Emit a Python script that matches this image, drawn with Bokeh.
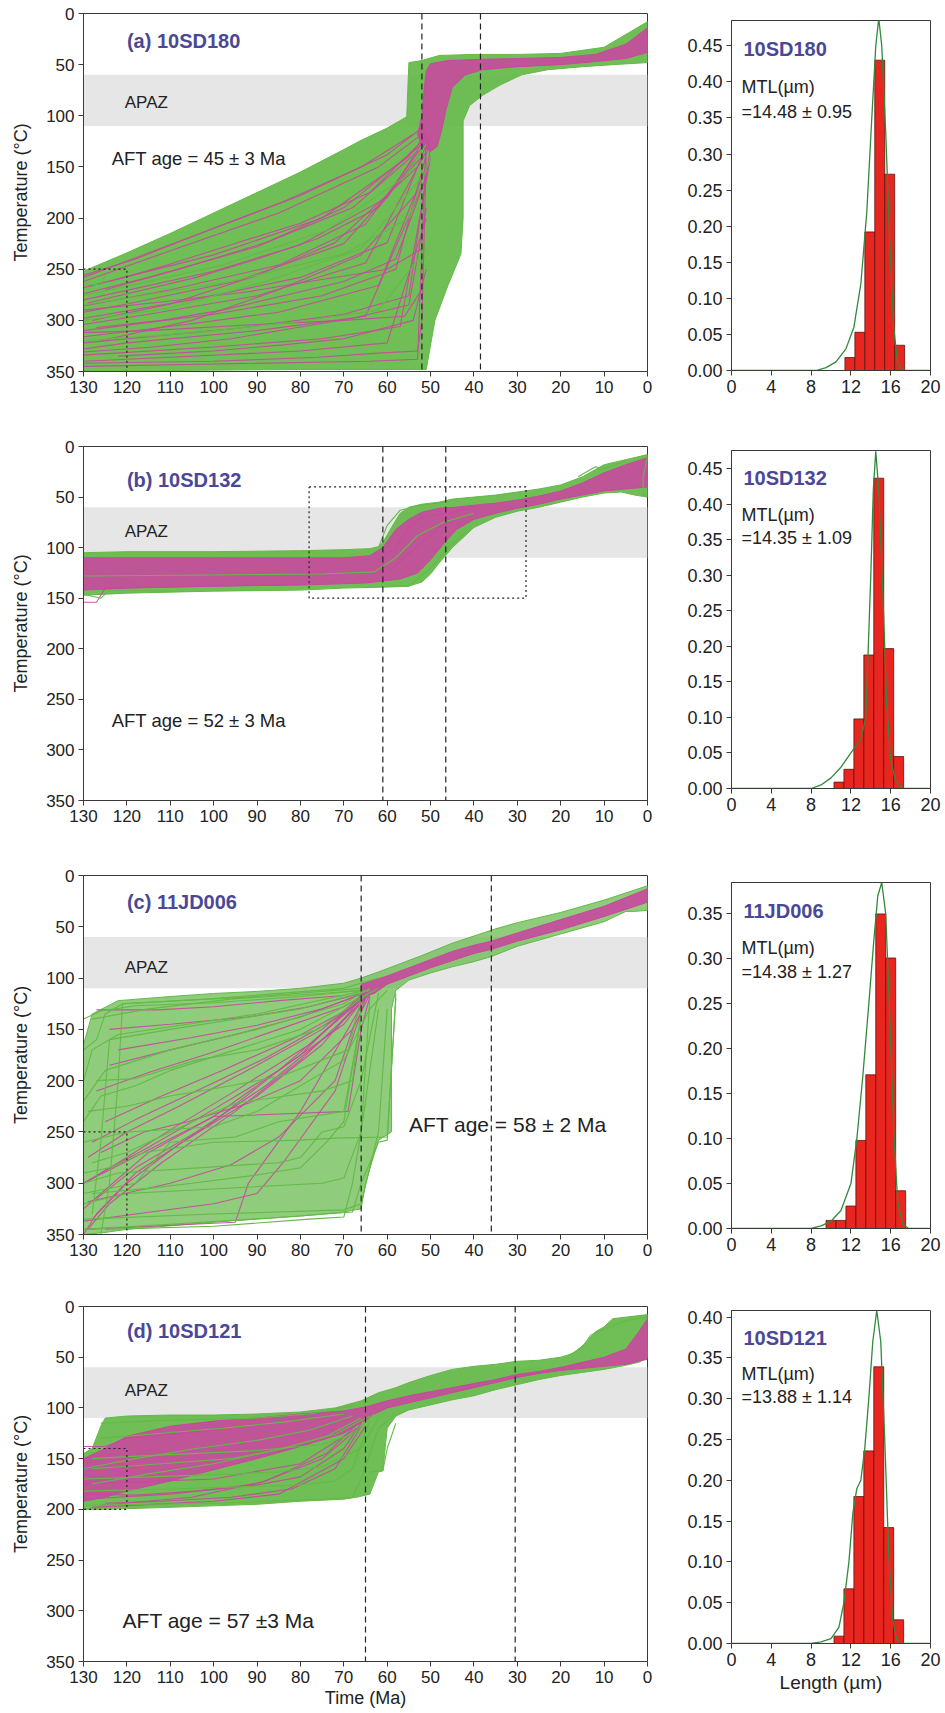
from bokeh.plotting import figure
from bokeh.layouts import column, row
from bokeh.models import Range1d, FixedTicker, NumeralTickFormatter, Span
from bokeh.core.properties import value
from bokeh.embed import file_html
from bokeh.resources import INLINE

FONT = "Liberation Sans"
GREEN = "#64b948"
MAGENTA = "#c8489e"
TITLE_C = "#4a4896"
TXT = "#222222"
AX = "#3a3a3a"
CURVE = "#2f8a3c"
BAR = "#e8261f"

TIME_TICKS = [130, 120, 110, 100, 90, 80, 70, 60, 50, 40, 30, 20, 10, 0]
TEMP_TICKS = [0, 50, 100, 150, 200, 250, 300, 350]
LEN_TICKS = [0, 4, 8, 12, 16, 20]
APAZ = [60, 110]

# ---------------- panel (a) 10SD180 ----------------
A_LABEL = "(a) 10SD180"
A_AGE = "AFT age = 45 \u00b1 3 Ma"
A_DASH = [52, 38.5]
A_GREEN_ENV = [(130, 252), (120, 234), (110, 215), (100, 195), (89, 173), (80, 155), (70, 133), (66, 124),
               (60, 112), (55.5, 101), (55, 48), (52, 46), (48, 41), (40, 40), (30, 40), (20, 39),
               (10, 33), (4, 18), (0, 8),
               (0, 48), (8, 50), (15, 52), (23, 55), (29, 60), (34, 70), (38, 80), (41, 90), (42.5, 105),
               (42.5, 200), (43, 235), (46, 266), (49, 300), (51, 348), (80, 348), (110, 349), (130, 350)]
A_MAG_ENV = [(53, 118), (52, 100), (51.5, 75), (51, 56), (50, 49), (46, 46), (40, 45), (30, 44), (20, 43),
             (12, 40), (5, 30), (0, 14),
             (0, 38), (5, 44), (12, 47), (20, 50), (30, 52), (38, 55), (42, 60), (45, 72), (46.5, 95),
             (47.5, 115), (48.5, 130), (50, 135), (52, 130)]
A_MAG_PATHS = [
    [(130, 258), (105, 218), (80, 178), (60, 138), (52, 112)],
    [(130, 262), (110, 232), (85, 195), (62, 150), (51, 115)],
    [(130, 268), (100, 236), (75, 200), (55, 140), (51, 118)],
    [(130, 274), (115, 258), (90, 228), (70, 190), (52, 128)],
    [(130, 280), (100, 252), (80, 226), (60, 180), (51, 120)],
    [(130, 286), (110, 270), (85, 246), (65, 206), (51, 125)],
    [(130, 292), (120, 284), (95, 262), (70, 225), (52, 140)],
    [(130, 298), (105, 280), (80, 258), (60, 224), (50, 118)],
    [(130, 304), (115, 294), (90, 276), (65, 244), (51, 135)],
    [(130, 310), (100, 294), (75, 276), (58, 250), (50, 122)],
    [(130, 316), (110, 306), (85, 292), (62, 266), (51, 150)],
    [(130, 322), (95, 308), (70, 294), (55, 276), (50, 130)],
    [(130, 328), (120, 322), (90, 310), (65, 296), (51, 160)],
    [(130, 334), (100, 326), (75, 318), (57, 306), (50, 140)],
    [(130, 340), (110, 336), (80, 330), (60, 322), (51, 200)],
    [(130, 345), (64, 340), (53, 338), (51, 118)],
    [(128, 300), (110, 284), (90, 256), (72, 224), (53, 150)],
    [(126, 320), (105, 300), (85, 270), (66, 236), (52, 170)],
    [(125, 270), (108, 250), (88, 224), (68, 190), (53, 135)],
    [(130, 290), (112, 282), (92, 272), (78, 262), (60, 250), (52, 230)],
    [(130, 312), (115, 310), (90, 304), (70, 300), (56, 296), (52, 270)],
    [(122, 335), (100, 330), (84, 324), (70, 318), (54, 300), (51, 250)],
    [(130, 256), (118, 240), (100, 210), (84, 184), (66, 150), (54, 118)],
    [(129, 283), (118, 272), (104, 258), (90, 240), (76, 220), (62, 190), (52, 135)],
    [(127, 307), (112, 300), (98, 290), (84, 276), (70, 262), (58, 240), (51, 160)],
    [(130, 331), (114, 326), (96, 318), (82, 308), (68, 298), (55, 285), (51, 190)],
    [(124, 262), (110, 245), (96, 226), (80, 205), (64, 175), (52, 125)],
    [(130, 342), (100, 340), (76, 336), (62, 332), (53, 330), (52, 300), (51, 140)],
]
A_GREEN_PATHS = [
    [(130, 265), (126, 265), (125, 256)],
    [(130, 300), (110, 288), (88, 262), (66, 230), (52, 160)],
    [(130, 276), (98, 246), (74, 212), (56, 160), (51, 128)],
    [(130, 320), (104, 312), (78, 300), (62, 290), (51, 230)],
    [(130, 285), (96, 262), (70, 235), (55, 200), (50, 140)],
]
A_DOTTED = [[(130, 250), (120, 250), (120, 350)]]
A_BOX = []

A_HIST_EDGES = [11.4, 12.4, 13.4, 14.4, 15.4, 16.4, 17.4]
A_HIST = [0.018, 0.053, 0.192, 0.430, 0.272, 0.035]
A_CURVE_X = [0, 8.5, 9.5, 10.5, 11.5, 12.3, 13.0, 13.6, 14.1, 14.5, 14.8, 15.1, 15.5, 15.9, 16.3, 16.7, 17.2, 20]
A_CURVE_Y = [0, 0, 0.004, 0.012, 0.03, 0.06, 0.12, 0.22, 0.35, 0.45, 0.488, 0.45, 0.33, 0.18, 0.06, 0.01, 0, 0]
A_SAMPLE = "10SD180"
A_MTL = "=14.48 \u00b1 0.95"
A_YMAX = 0.485
A_YTICKS = [0.0, 0.05, 0.10, 0.15, 0.20, 0.25, 0.30, 0.35, 0.40, 0.45]

# ---------------- panel (b) 10SD132 ----------------
B_LABEL = "(b) 10SD132"
B_AGE = "AFT age = 52 \u00b1 3 Ma"
B_DASH = [61, 46.5]
B_GREEN_ENV = [(130, 105), (120, 104), (100, 104), (80, 103), (70, 102), (64, 101), (62, 99), (61, 95), (59, 80),
               (57, 66), (55, 60), (52, 57), (48, 55), (45, 52), (40, 50), (35, 48), (30, 45), (25, 42), (20, 38),
               (15, 30), (10, 18), (5, 13), (0, 8),
               (0, 50), (3, 48), (6, 45), (10, 46), (15, 50), (20, 55), (25, 60), (30, 64), (35, 70), (40, 80),
               (45, 100), (48, 115), (50, 126), (52, 134), (55, 138), (60, 139), (70, 140), (80, 142), (100, 143),
               (120, 145), (130, 147)]
B_MAG_ENV = [(130, 110), (100, 110), (80, 110), (70, 110), (64, 108), (61, 100), (58, 82), (55, 72), (52, 65),
             (48, 61), (44, 60), (40, 58), (35, 56), (30, 53), (25, 49), (20, 44), (15, 36), (10, 26), (5, 18),
             (0, 11),
             (0, 40), (5, 42), (10, 44), (15, 48), (20, 52), (25, 57), (30, 61), (35, 66), (40, 72), (44, 82),
             (47, 96), (50, 112), (53, 125), (57, 131), (65, 135), (80, 137), (100, 138), (120, 140), (130, 142)]
B_MAG_PATHS = [
    [(130, 154), (127, 154), (125, 140), (100, 138), (80, 136)],
    [(62, 112), (58, 100), (55, 80), (52, 70), (46, 66), (40, 60)],
    [(60, 125), (56, 110), (52, 95), (48, 80), (44, 72)],
]
B_GREEN_PATHS = [
    [(60, 138), (55, 138), (53, 131), (50, 120), (46, 100), (42, 85)],
    [(62, 100), (60, 78), (57, 63), (52, 58), (47, 55)],
    [(0, 10), (1, 30), (1, 48), (0, 50)],
    [(130, 146), (126, 150), (124, 142), (110, 143)],
    [(16, 30), (12, 20), (10, 22), (5, 14)],
    [(130, 128), (100, 127), (75, 126), (63, 124), (58, 110), (53, 88), (47, 75), (40, 66)],
]
B_DOTTED = []
B_BOX = [(78, 40), (28, 40), (28, 150), (78, 150), (78, 40)]

B_HIST_EDGES = [10.3, 11.3, 12.3, 13.3, 14.3, 15.3, 16.3, 17.3]
B_HIST = [0.009, 0.027, 0.098, 0.188, 0.437, 0.197, 0.045]
B_CURVE_X = [0, 8.0, 9, 10, 11, 12, 12.5, 13, 13.5, 14, 14.25, 14.5, 14.8, 15.2, 15.6, 16, 16.5, 17.2, 20]
B_CURVE_Y = [0, 0, 0.005, 0.015, 0.03, 0.05, 0.06, 0.07, 0.10, 0.30, 0.42, 0.475, 0.42, 0.28, 0.12, 0.04, 0.01, 0, 0]
B_SAMPLE = "10SD132"
B_MTL = "=14.35 \u00b1 1.09"
B_YMAX = 0.476
B_YTICKS = [0.0, 0.05, 0.10, 0.15, 0.20, 0.25, 0.30, 0.35, 0.40, 0.45]

# ---------------- panel (c) 11JD006 ----------------
C_LABEL = "(c) 11JD006"
C_AGE = "AFT age = 58 \u00b1 2 Ma"
C_DASH = [66, 36]
C_GREEN_ENV = [(130, 165), (128, 135), (122, 122), (110, 118), (100, 115), (90, 113), (80, 110), (70, 105),
               (66, 100), (62, 94), (57, 86), (52, 78), (45, 66), (40, 59), (35, 52), (30, 46), (20, 36), (10, 24),
               (5, 17), (0, 10),
               (0, 34), (3, 35), (5, 35), (10, 45), (20, 57), (30, 69), (36, 79), (40, 84), (45, 89), (50, 95),
               (55, 102), (58, 112), (59, 130), (59, 250), (62, 258), (65, 300), (66, 325), (70, 328), (80, 332),
               (100, 338), (120, 345), (125, 348), (130, 350)]
C_MAG_ENV = [(66, 106), (60, 98), (55, 90), (50, 82), (45, 74), (40, 68), (36, 64), (30, 56), (20, 43),
             (10, 30), (0, 13),
             (0, 26), (10, 40), (20, 53), (30, 64), (36, 72), (40, 76), (45, 83), (50, 90), (55, 98), (60, 106),
             (63, 115), (66, 118)]
C_MAG_PATHS = [
    [(130, 350), (127, 330), (118, 290), (100, 240), (85, 190), (65, 118)],
    [(129, 345), (124, 320), (112, 280), (95, 230), (80, 180), (64, 116)],
    [(128, 335), (120, 300), (108, 262), (90, 215), (75, 165), (65, 115)],
    [(130, 325), (126, 310), (115, 270), (100, 235), (80, 175), (66, 117)],
    [(127, 315), (118, 285), (104, 250), (88, 205), (72, 150), (64, 114)],
    [(130, 300), (122, 280), (110, 248), (95, 210), (78, 165), (65, 116)],
    [(126, 290), (115, 265), (100, 228), (85, 190), (70, 145), (64, 113)],
    [(129, 275), (120, 250), (108, 225), (90, 185), (75, 150), (65, 114)],
    [(128, 260), (118, 238), (104, 210), (88, 178), (72, 140), (64, 112)],
    [(125, 240), (112, 215), (98, 190), (82, 160), (68, 128), (64, 113)],
    [(127, 210), (115, 192), (100, 172), (85, 150), (70, 128), (64, 113)],
    [(124, 185), (110, 170), (95, 155), (80, 138), (66, 116)],
    [(122, 170), (105, 158), (90, 146), (75, 130), (65, 114)],
    [(127, 131), (113, 131), (100, 128), (85, 122), (70, 117)],
    [(130, 300), (100, 235), (69, 230), (66, 150), (64, 118)],
    [(130, 345), (95, 338), (92, 300), (80, 230), (65, 120)],
    [(129, 318), (110, 300), (96, 282), (85, 255), (72, 200), (66, 125)],
    [(126, 270), (122, 262), (116, 250), (106, 240), (92, 222), (80, 200), (68, 150), (64, 116)],
    [(124, 150), (110, 145), (92, 138), (78, 128), (66, 115)],
    [(130, 337), (118, 330), (100, 320), (90, 310), (84, 280), (72, 210), (65, 120)],
]
C_GREEN_PATHS = [
    [(130, 170), (127, 160), (125, 135), (121, 125), (100, 120), (70, 110), (62, 100)],
    [(130, 200), (128, 170), (122, 155), (90, 135), (65, 112)],
    [(130, 240), (126, 215), (118, 205), (110, 190), (80, 150), (62, 110)],
    [(130, 260), (120, 250), (100, 245), (90, 230), (70, 180), (64, 130), (60, 112)],
    [(130, 300), (122, 290), (85, 280), (80, 275), (75, 250), (70, 245), (66, 200), (62, 115)],
    [(130, 320), (120, 310), (75, 300), (70, 295), (66, 250), (62, 130)],
    [(130, 335), (100, 330), (70, 326), (66, 320), (62, 250), (60, 130)],
    [(130, 345), (110, 340), (80, 332), (68, 328), (66, 300), (62, 260), (60, 258), (58, 115)],
    [(128, 140), (115, 130), (95, 120), (75, 115), (66, 112)],
    [(130, 220), (125, 190), (110, 170), (90, 150), (70, 125), (64, 110)],
    [(128, 280), (120, 270), (105, 240), (95, 222), (75, 210), (68, 200), (66, 130)],
    [(130, 310), (118, 300), (110, 260), (95, 255), (85, 240), (70, 230), (66, 140)],
    [(126, 350), (124, 300), (122, 200), (121, 125), (90, 118), (66, 110)],
    [(128, 330), (126, 260), (124, 160), (110, 150), (80, 130), (64, 112)],
    [(125, 345), (100, 342), (78, 335), (70, 333), (68, 300), (66, 250), (64, 120)],
    [(130, 290), (124, 285), (116, 270), (100, 260), (80, 258), (72, 256), (60, 255), (58, 120)],
    [(127, 200), (118, 198), (104, 180), (90, 170), (76, 150), (64, 114)],
    [(130, 140), (126, 132), (118, 127), (100, 124), (80, 118), (66, 112)],
    [(129, 230), (120, 225), (110, 215), (96, 205), (84, 195), (75, 180), (69, 170), (66, 120)],
    [(128, 310), (115, 305), (105, 300), (90, 292), (80, 285), (74, 260), (70, 240), (67, 160)],
]
C_DOTTED = [[(130, 250), (120, 250), (120, 350)]]
C_BOX = []

C_HIST_EDGES = [9.5, 10.5, 11.5, 12.5, 13.5, 14.5, 15.5, 16.5, 17.5]
C_HIST = [0.009, 0.009, 0.025, 0.098, 0.171, 0.350, 0.301, 0.042]
C_CURVE_X = [0, 8, 9, 10, 11, 12, 12.6, 13.2, 13.8, 14.3, 14.7, 15.1, 15.5, 15.9, 16.3, 16.7, 17.2, 17.8, 20]
C_CURVE_Y = [0, 0, 0.003, 0.008, 0.02, 0.05, 0.10, 0.17, 0.25, 0.32, 0.37, 0.385, 0.35, 0.24, 0.11, 0.03, 0.005, 0, 0]
C_SAMPLE = "11JD006"
C_MTL = "=14.38 \u00b1 1.27"
C_YMAX = 0.385
C_YTICKS = [0.0, 0.05, 0.10, 0.15, 0.20, 0.25, 0.30, 0.35]

# ---------------- panel (d) 10SD121 ----------------
D_LABEL = "(d) 10SD121"
D_AGE = "AFT age = 57 \u00b13 Ma"
D_DASH = [65, 30.5]
D_GREEN_ENV = [(130, 145), (128, 140), (126, 118), (125, 110), (120, 108), (110, 107), (100, 107), (90, 106),
               (80, 104), (72, 100), (66, 93), (62, 85), (58, 80), (55, 75), (50, 68), (45, 62), (40, 59),
               (35, 57), (30, 54), (25, 53), (20, 50), (17, 46), (14, 35), (12, 25), (10, 20), (8, 12), (0, 8),
               (0, 50), (2, 55), (5, 58), (10, 62), (15, 65), (20, 68), (25, 72), (30, 77), (35, 82), (40, 88),
               (45, 92), (50, 97), (55, 102), (58, 108), (60, 120), (61, 162), (62, 163), (64, 185), (67, 188),
               (70, 190), (80, 192), (90, 195), (110, 198), (125, 200), (130, 200)]
D_MAG_ENV = [(130, 150), (125, 140), (120, 128), (110, 118), (100, 113), (90, 110), (80, 106), (70, 103),
             (65, 99), (60, 93), (55, 88), (50, 84), (45, 80), (40, 76), (35, 72), (30, 67), (25, 64), (20, 60),
             (15, 55), (10, 50), (5, 42), (2, 25), (0, 12),
             (0, 52), (5, 57), (10, 59), (15, 61), (20, 63), (25, 66), (30, 70), (35, 75), (40, 80), (45, 85),
             (50, 90), (55, 95), (60, 100), (63, 106), (65, 112), (70, 125), (80, 138), (90, 150), (100, 161),
             (110, 172), (120, 182), (125, 188), (130, 192)]
D_MAG_PATHS = [
    [(130, 190), (110, 185), (90, 175), (75, 150), (66, 118)],
    [(130, 175), (100, 170), (80, 155), (67, 120)],
    [(128, 198), (100, 192), (85, 185), (70, 150), (65, 118)],
    [(130, 138), (125, 138), (120, 130), (100, 122)],
    [(126, 196), (105, 188), (88, 172), (74, 145), (66, 112)],
    [(130, 185), (118, 186), (104, 182), (90, 176), (80, 168), (70, 140), (66, 115)],
    [(125, 194), (112, 192), (96, 188), (82, 180), (72, 160), (66, 118)],
]
D_GREEN_PATHS = [
    [(130, 196), (100, 194), (75, 190), (68, 188), (66, 170), (62, 120), (58, 106)],
    [(130, 182), (110, 180), (80, 176), (72, 172), (68, 160), (64, 112)],
    [(128, 150), (120, 148), (90, 142), (75, 136), (68, 126), (63, 106)],
    [(126, 115), (110, 112), (90, 110), (78, 106), (68, 98)],
    [(130, 170), (115, 168), (95, 165), (85, 163), (75, 158), (66, 140), (62, 110)],
    [(64, 163), (61, 162), (60, 140), (58, 115)],
    [(18, 48), (15, 40), (13, 28), (10, 22), (5, 14), (0, 10)],
    [(128, 160), (112, 155), (96, 150), (84, 140), (72, 126), (64, 108)],
    [(130, 160), (118, 150), (104, 140), (90, 132), (78, 122), (68, 108)],
    [(128, 175), (115, 165), (100, 155), (86, 142), (74, 128), (66, 110)],
    [(126, 130), (112, 125), (98, 120), (84, 114), (70, 106)],
]
D_DOTTED = [[(130, 140), (120, 140), (120, 200), (130, 200)]]
D_BOX = []

D_HIST_EDGES = [10.3, 11.3, 12.3, 13.3, 14.3, 15.3, 16.3, 17.3]
D_HIST = [0.009, 0.067, 0.180, 0.236, 0.339, 0.142, 0.029]
D_CURVE_X = [0, 8, 9, 10, 10.8, 11.3, 11.8, 12.2, 12.6, 13.0, 13.4, 13.8, 14.2, 14.6, 15.0, 15.4, 15.8, 16.2, 16.6, 17, 20]
D_CURVE_Y = [0, 0, 0.002, 0.006, 0.02, 0.05, 0.10, 0.16, 0.19, 0.20, 0.24, 0.30, 0.37, 0.408, 0.37, 0.25, 0.11, 0.03, 0.005, 0, 0]
D_SAMPLE = "10SD121"
D_MTL = "=13.88 \u00b1 1.14"
D_YMAX = 0.408
D_YTICKS = [0.0, 0.05, 0.10, 0.15, 0.20, 0.25, 0.30, 0.35, 0.40]


def xs_ys(paths):
    return [[t for t, _ in pth] for pth in paths], [[v for _, v in pth] for pth in paths]


def style(p, fs="15px"):
    p.grid.visible = False
    p.outline_line_color = AX
    p.outline_line_width = 1
    p.background_fill_color = "white"
    p.border_fill_color = "white"
    for ax in (p.xaxis[0], p.yaxis[0]):
        ax.major_label_text_font = FONT
        ax.major_label_text_font_size = fs
        ax.major_label_text_color = TXT
        ax.axis_line_color = AX
        ax.major_tick_line_color = AX
        ax.minor_tick_line_color = None
        ax.major_tick_out = 5
        ax.major_tick_in = 0
        ax.major_label_standoff = 4
        ax.axis_label_text_font = FONT
        ax.axis_label_text_font_style = "normal"
        ax.axis_label_text_color = TXT


def tT_panel(label, label_y, age, age_x, age_y, age_fs, apaz_y, green_env, green_alpha, mag_env,
             green_paths, mag_paths, dashes, dotted, box, h, top, bottom, xlabel=None):
    p = figure(width=660, height=h, x_range=Range1d(130, 0), y_range=Range1d(350, 0),
               output_backend="svg", toolbar_location=None,
               min_border_left=83, min_border_right=13, min_border_top=top, min_border_bottom=bottom)
    style(p, fs="17px")
    p.xaxis.ticker = FixedTicker(ticks=TIME_TICKS)
    p.yaxis.ticker = FixedTicker(ticks=TEMP_TICKS)
    p.yaxis.axis_label = "Temperature (\u00b0C)"
    p.yaxis.axis_label_text_font_size = "18px"
    p.yaxis.axis_label_standoff = 12
    if xlabel:
        p.xaxis.axis_label = xlabel
        p.xaxis.axis_label_text_font_size = "18px"
        p.xaxis.axis_label_standoff = 2
    p.quad(left=[TIME_TICKS[0]], right=[TIME_TICKS[-1]], top=[APAZ[0]], bottom=[APAZ[1]],
           fill_color="#e6e6e6", line_color=None)
    p.patch([t for t, _ in green_env], [v for _, v in green_env], fill_color=GREEN,
            fill_alpha=green_alpha, line_color=GREEN, line_width=1)
    gx, gy = xs_ys(green_paths)
    p.patch([t for t, _ in mag_env], [v for _, v in mag_env], fill_color=MAGENTA,
            fill_alpha=0.9, line_color=MAGENTA, line_width=1)
    mx, my = xs_ys(mag_paths)
    p.multi_line(mx, my, line_color=MAGENTA, line_width=1.1, line_alpha=0.9)
    p.multi_line(gx, gy, line_color=GREEN, line_width=1.1)
    for d in dashes:
        p.add_layout(Span(location=d, dimension="height", line_color="#222222",
                          line_dash="6 4", line_width=1.2))
    for dl in dotted:
        p.line([t for t, _ in dl], [v for _, v in dl], line_color="#222222", line_dash="2 3", line_width=1.2)
    if box:
        p.line([t for t, _ in box], [v for _, v in box], line_color="#222222", line_dash="2 3", line_width=1.2)
    p.text(x=[120], y=[label_y], text=[label], text_font=value(FONT), text_font_size="20px",
           text_font_style="bold", text_color=TITLE_C, text_baseline="middle", text_align="left")
    p.text(x=[120.5], y=[apaz_y], text=["APAZ"], text_font=value(FONT), text_font_size="17px",
           text_color=TXT, text_baseline="middle", text_align="left")
    p.text(x=[age_x], y=[age_y], text=[age], text_font=value(FONT), text_font_size=age_fs,
           text_color=TXT, text_baseline="middle", text_align="left")
    return p


def hist_panel(edges, heights, cx, cy, sample, mtl, ymax, yticks, h, top, bottom, xlabel=None):
    p = figure(width=285, height=h, x_range=Range1d(0, 20), y_range=Range1d(0, ymax),
               output_backend="svg", toolbar_location=None,
               min_border_left=71, min_border_right=15, min_border_top=top, min_border_bottom=bottom)
    style(p, fs="18px")
    p.xaxis.ticker = FixedTicker(ticks=LEN_TICKS)
    p.yaxis.ticker = FixedTicker(ticks=yticks)
    p.yaxis.formatter = NumeralTickFormatter(format="0.00")
    if xlabel:
        p.xaxis.axis_label = xlabel
        p.xaxis.axis_label_text_font_size = "19px"
        p.xaxis.axis_label_standoff = 3
    p.quad(left=edges[:-1], right=edges[1:], top=heights, bottom=[0] * len(heights),
           fill_color=BAR, line_color="#5a1510", line_width=0.8)
    p.line(cx, cy, line_color=CURVE, line_width=1.3)
    p.text(x=[1.2], y=[ymax * 0.918], text=[sample], text_font=value(FONT), text_font_size="20px",
           text_font_style="bold", text_color=TITLE_C, text_baseline="middle", text_align="left")
    p.text(x=[1.0], y=[ymax * 0.81], text=["MTL(\u00b5m)"], text_font=value(FONT), text_font_size="18px",
           text_color=TXT, text_baseline="middle", text_align="left")
    p.text(x=[1.0], y=[ymax * 0.74], text=[mtl], text_font=value(FONT), text_font_size="18px",
           text_color=TXT, text_baseline="middle", text_align="left")
    return p


la = tT_panel(A_LABEL, 27, A_AGE, 123.5, 142, "18.5px", 87, A_GREEN_ENV, 0.92, A_MAG_ENV,
              A_GREEN_PATHS, A_MAG_PATHS, A_DASH, A_DOTTED, A_BOX, 430, 13, 59)
ha = hist_panel(A_HIST_EDGES, A_HIST, A_CURVE_X, A_CURVE_Y, A_SAMPLE, A_MTL, A_YMAX, A_YTICKS, 430, 20, 60)

lb = tT_panel(B_LABEL, 33, B_AGE, 123.5, 271, "18.5px", 84, B_GREEN_ENV, 0.92, B_MAG_ENV,
              B_GREEN_PATHS, B_MAG_PATHS, B_DASH, B_DOTTED, B_BOX, 430, 16, 60)
hb = hist_panel(B_HIST_EDGES, B_HIST, B_CURVE_X, B_CURVE_Y, B_SAMPLE, B_MTL, B_YMAX, B_YTICKS, 430, 20, 72)

lc = tT_panel(C_LABEL, 26, C_AGE, 55, 243, "21px", 90, C_GREEN_ENV, 0.72, C_MAG_ENV,
              C_GREEN_PATHS, C_MAG_PATHS, C_DASH, C_DOTTED, C_BOX, 430, 15, 56)
hc = hist_panel(C_HIST_EDGES, C_HIST, C_CURVE_X, C_CURVE_Y, C_SAMPLE, C_MTL, C_YMAX, C_YTICKS, 430, 22, 62)

ld = tT_panel(D_LABEL, 24, D_AGE, 121, 310, "21px", 83, D_GREEN_ENV, 0.92, D_MAG_ENV,
              D_GREEN_PATHS, D_MAG_PATHS, D_DASH, D_DOTTED, D_BOX, 423, 16, 52, xlabel="Time (Ma)")
hd = hist_panel(D_HIST_EDGES, D_HIST, D_CURVE_X, D_CURVE_Y, D_SAMPLE, D_MTL, D_YMAX, D_YTICKS, 423, 20, 70,
                xlabel="Length (\u00b5m)")

page = column(row(column(la), column(ha)), row(column(lb), column(hb)),
              row(column(lc), column(hc)), row(column(ld), column(hd)))
open("out.html", "w").write(file_html(page, INLINE))
